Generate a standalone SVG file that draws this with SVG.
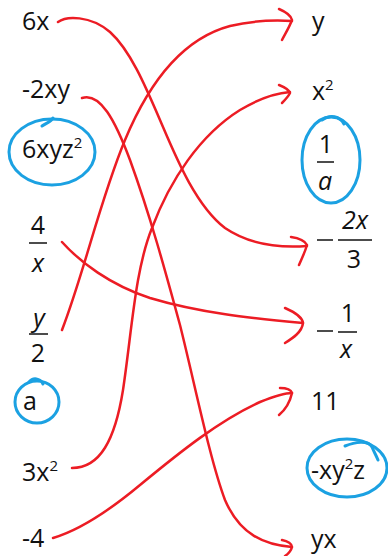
<svg xmlns="http://www.w3.org/2000/svg" width="388" height="556" viewBox="0 0 388 556">
<style>
text{font-family:"Open Sans","Noto Sans","DejaVu Sans",sans-serif;fill:#111;}
.l{font-size:25px;}
.r{font-size:25px;}
.it{font-style:italic;}
.c{text-anchor:middle;}
.sup{font-size:15px;}
.fl{stroke:#111;stroke-width:1.5;}
.red{fill:none;stroke:#ec1c24;stroke-width:2.5;stroke-linecap:round;stroke-linejoin:round;}
.blue{fill:none;stroke:#1ba1e2;stroke-width:3;stroke-linecap:round;}
</style>
<rect width="388" height="556" fill="#fff"/>
<g id="left">
<g id="n-6x"><text class="l" x="22" y="30">6x</text></g>
<g id="n-m2xy"><text class="l" x="22" y="98">-2xy</text></g>
<g id="n-6xyz2"><text class="l" x="22" y="158">6xyz<tspan class="sup" dy="-10">2</tspan></text>
<ellipse class="blue" cx="52" cy="152" rx="43" ry="33"/><path class="blue" d="M42,126 C46,123 51,122 53,118"/></g>
<g id="n-4overx"><text class="l c" x="38" y="234">4</text><line class="fl" x1="29" y1="243" x2="47" y2="243"/><text class="l c it" x="38" y="272">x</text></g>
<g id="n-yover2"><text class="l c it" x="39" y="327">y</text><line class="fl" x1="29" y1="334" x2="48" y2="334"/><text class="l c" x="38" y="362">2</text></g>
<g id="n-a"><text class="l" x="23" y="410">a</text><ellipse class="blue" cx="37" cy="402" rx="22" ry="21"/><path class="blue" d="M29,382 C33,377 40,378 43,384"/></g>
<g id="n-3x2"><text class="l" x="22" y="481">3x<tspan class="sup" dy="-10">2</tspan></text></g>
<g id="n-m4"><text class="l" x="22" y="547">-4</text></g>
</g>
<g id="right">
<g id="n-y"><text class="r" x="312" y="30">y</text></g>
<g id="n-x2"><text class="r" x="312" y="100">x<tspan class="sup" dy="-10">2</tspan></text></g>
<g id="n-1overa"><text class="r c" x="326" y="153">1</text><line class="fl" x1="317" y1="162" x2="334" y2="162"/><text class="r c it" x="325" y="190">a</text>
<ellipse class="blue" cx="331" cy="160" rx="29" ry="43"/><path class="blue" d="M322,120 C330,114 340,116 344,124"/></g>
<g id="n-m2xover3"><line class="fl" x1="317" y1="240" x2="333" y2="240"/><text class="r c it" x="355" y="229">2x</text><line class="fl" x1="338" y1="240" x2="372" y2="240"/><text class="r c" x="354" y="268">3</text></g>
<g id="n-m1overx"><line class="fl" x1="317" y1="331" x2="333" y2="331"/><text class="r c" x="348" y="322">1</text><line class="fl" x1="338" y1="332" x2="357" y2="332"/><text class="r c it" x="346" y="358">x</text></g>
<g id="n-11"><text class="r" x="311" y="410">11</text></g>
<g id="n-mxy2z"><text class="r" x="311" y="479">-xy<tspan class="sup" dy="-10">2</tspan><tspan dy="10">z</tspan></text>
<ellipse class="blue" cx="347" cy="468" rx="40" ry="29"/><path class="blue" d="M345,446 C355,442 368,440 372,447 C374,452 376,455 378,460"/></g>
<g id="n-yx"><text class="r" x="311" y="548">yx</text></g>
</g>
<g id="connectors">
<path class="red" d="M58,22 C66,16 90,15 110,32 C130,50 145,85 160,120 C175,155 195,205 225,228 C250,245 280,248 307,246"/>
<path class="red" d="M291,237 C298,238 305,241 307,245 C305,252 302,258 299,265"/>
<path class="red" d="M62,330 C85,270 100,200 125,140 C150,80 185,38 230,26 C255,20 275,20 292,21"/>
<path class="red" d="M279,9 C286,12 291,15 292,20 C289,28 285,34 282,40"/>
<path class="red" d="M72,468 C100,468 115,440 123,390 C132,330 135,270 152,228 C170,180 200,135 240,110 C260,98 278,93 290,92"/>
<path class="red" d="M279,85 C284,87 289,90 290,93 C288,97 285,100 282,103"/>
<path class="red" d="M82,98 C100,92 115,120 130,160 C150,215 165,270 180,325 C195,385 210,460 225,500 C240,535 265,545 292,547"/>
<path class="red" d="M282,540 C288,541 292,544 292,547 C291,551 288,554 285,556"/>
<path class="red" d="M62,242 C80,262 110,285 150,298 C200,313 250,318 303,323"/>
<path class="red" d="M285,308 C292,311 302,316 303,323 C302,332 293,338 285,343"/>
<path class="red" d="M53,538 C80,530 110,510 140,485 C180,452 220,420 260,402 C275,396 285,393 292,393"/>
<path class="red" d="M280,388 C286,388 291,390 292,393 C290,402 285,410 279,415"/>
</g>
</svg>
